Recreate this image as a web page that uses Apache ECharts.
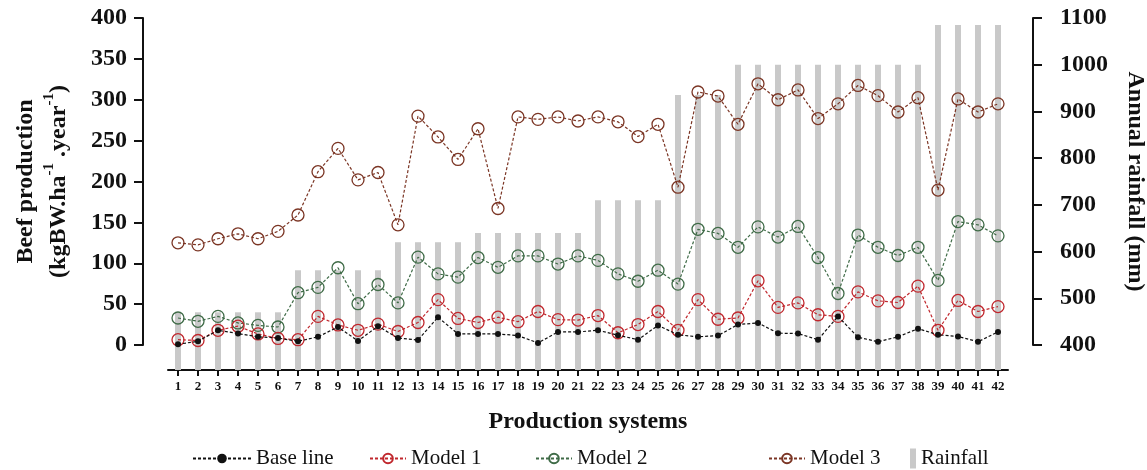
<!DOCTYPE html>
<html>
<head>
<meta charset="utf-8">
<script src="https://cdn.jsdelivr.net/npm/echarts@6/dist/echarts.min.js"></script>
<style>html,body{margin:0;padding:0;background:#fff;}#c{width:1147px;height:470px;}</style>
</head>
<body>
<div id="c"></div>
<script>
const categories = ['1','2','3','4','5','6','7','8','9','10','11','12','13','14','15','16','17','18','19','20','21','22','23','24','25','26','27','28','29','30','31','32','33','34','35','36','37','38','39','40','41','42'];
const baseLine = [1,4.5,18,14,10,8.5,4.5,10,22,5,23, 8.5,6,34,13.5,13.5,13.5,11.5,2.5,16,16, 18,12,6.5,24,12.5,10,11.5,25,27,14.5,14, 6.5,35,9.5,4,10,20,12.5,10.5,4,16];
const model1 = [6.5,5.5,18,23,13.5,8,6.5,35,24.5,18,25.5, 16.5,27.5,55.5,32.5,27.5,34,28.5,41,31,30.5, 36,15,25,41,18,55.5,31.5,33,78.5,46,51.5, 37,35,65,54,52,72,18,54.5,41,47];
const model2 = [33,29,35,27,24,22,64,70.5,94.5,50.5,74, 51.5,107.5,87,83,107,95,109,109,99,109, 103.5,87,78,91.5,74.5,141.5,136.5,119.5,144.5,132,145, 107,63,134.5,119.5,109.5,119.5,79,151,147,133.5];
const model3 = [125,122.5,130,136,130,139,159,212,240.5,202,211, 147,280,254.5,227,264.5,167,279,276,279,274, 279,273,255,270,193,309.5,304.5,270,319.5,300,312, 277,295,317.5,305,285,302.5,189.5,301,285,295];
const rainfall = [470,470,470,470,470,470, 560,560,560,560,560, 620,620,620,620, 640,640,640,640,640,640, 710,710,710,710, 935,935,935, 1000,1000,1000,1000,1000,1000,1000,1000,1000,1000, 1085,1085,1085,1085];
const leftTicks = {min:0, max:400, interval:50};
const rightTicks = {min:400, max:1100, interval:100};

const FONT = "'Liberation Serif','Times New Roman',serif";
const plotTop = 18, plotH = 327, axisGap = 25, gridLeft = 168, gridRight = 139;
// rainfall scale for bars that run down to the offset x axis
const rainMin = rightTicks.min - axisGap / plotH * (rightTicks.max - rightTicks.min);

const C = {base:'#111111', m1:'#c0272d', m2:'#3f6b47', m3:'#7b3524', bar:'#c9c9c9'};

function lineSeries(name, data, color, isBase){
  return {
    name, type:'line', data, xAxisIndex:0, yAxisIndex:0, z:isBase?6:4,
    symbol:'circle', symbolSize: isBase?6:12,
    color,
    itemStyle: isBase ? {color} : {color:'rgba(255,255,255,0)', borderColor:color, borderWidth:1.3},
    lineStyle:{color, width:1.2, type:[3,2]},
    emphasis:{disabled:true}, animation:false
  };
}

const chart = echarts.init(document.getElementById('c'), null, {renderer:'canvas'});
const legendText = {fontFamily:FONT, fontSize:21, color:'#111'};
chart.setOption({
  backgroundColor:'#fff',
  animation:false,
  grid:[
    {left:gridLeft, right:gridRight, top:plotTop, height:plotH, outerBoundsMode:'none', containLabel:false},
    {left:gridLeft, right:gridRight, top:plotTop, height:plotH+axisGap, outerBoundsMode:'none', containLabel:false}
  ],
  legend:[
    {data:['Base line'], left:187, top:443, itemWidth:58, itemHeight:12, textStyle:legendText, itemGap:8},
    {data:['Model 1'], left:364, top:443, itemWidth:36, itemHeight:12, textStyle:legendText},
    {data:['Model 2'], left:530, top:443, itemWidth:36, itemHeight:12, textStyle:legendText},
    {data:['Model 3'], left:763, top:443, itemWidth:36, itemHeight:12, textStyle:legendText},
    {data:[{name:'Rainfall', icon:'rect'}], left:905, top:443, itemWidth:6, itemHeight:20, textStyle:legendText, itemStyle:{color:C.bar}}
  ],
  xAxis:[
    {type:'category', data:categories, gridIndex:0, offset:axisGap, boundaryGap:true,
     axisLine:{onZero:false, lineStyle:{color:'#111', width:2}},
     axisTick:{show:true, inside:false, alignWithLabel:true, interval:0, length:6, lineStyle:{color:'#111', width:2}},
     axisLabel:{fontFamily:FONT, fontWeight:'bold', fontSize:13, color:'#111', margin:10, interval:0},
     name:'Production systems', nameLocation:'middle', nameGap:40,
     nameTextStyle:{fontFamily:FONT, fontWeight:'bold', fontSize:24, color:'#111'}},
    {type:'category', data:categories, gridIndex:1, show:false, boundaryGap:true}
  ],
  yAxis:[
    {type:'value', gridIndex:0, position:'left', offset:axisGap, min:leftTicks.min, max:leftTicks.max, interval:leftTicks.interval,
     splitLine:{show:false},
     axisLine:{show:true, onZero:false, lineStyle:{color:'#111', width:2}},
     axisTick:{show:true, length:9, lineStyle:{color:'#111', width:2}},
     axisLabel:{fontFamily:FONT, fontWeight:'bold', fontSize:24, color:'#111', margin:16},
     name:'{b|Beef production}\n{b|(kgBW.ha}{s|-1}{b| .year}{s|-1}{b|)}',
     nameLocation:'middle', nameRotate:90, nameGap:68,
     nameTextStyle:{fontFamily:FONT, fontWeight:'bold', fontSize:24, color:'#111', align:'center',
       rich:{b:{fontFamily:FONT, fontWeight:'bold', fontSize:24, color:'#111', lineHeight:33},
             s:{fontFamily:FONT, fontWeight:'bold', fontSize:15, color:'#111', verticalAlign:'top', lineHeight:33}}}},
    {type:'value', gridIndex:0, position:'right', offset:axisGap, min:rightTicks.min, max:rightTicks.max, interval:rightTicks.interval,
     splitLine:{show:false},
     axisLine:{show:true, onZero:false, lineStyle:{color:'#111', width:2}},
     axisTick:{show:true, length:9, lineStyle:{color:'#111', width:2}},
     axisLabel:{fontFamily:FONT, fontWeight:'bold', fontSize:24, color:'#111', margin:27, formatter:(v)=>String(v)},
     name:'Annual rainfall (mm)', nameLocation:'middle', nameRotate:-90, nameGap:90,
     nameTextStyle:{fontFamily:FONT, fontWeight:'bold', fontSize:24, color:'#111'}},
    {type:'value', gridIndex:1, min:rainMin, max:rightTicks.max, show:false, splitLine:{show:false}}
  ],
  series:[
    {name:'Rainfall', type:'bar', data:rainfall, xAxisIndex:1, yAxisIndex:2, barWidth:6, z:1,
     itemStyle:{color:C.bar}, emphasis:{disabled:true}},
    lineSeries('Model 3', model3, C.m3, false),
    lineSeries('Model 2', model2, C.m2, false),
    lineSeries('Model 1', model1, C.m1, false),
    lineSeries('Base line', baseLine, C.base, true)
  ]
});
</script>
</body>
</html>
